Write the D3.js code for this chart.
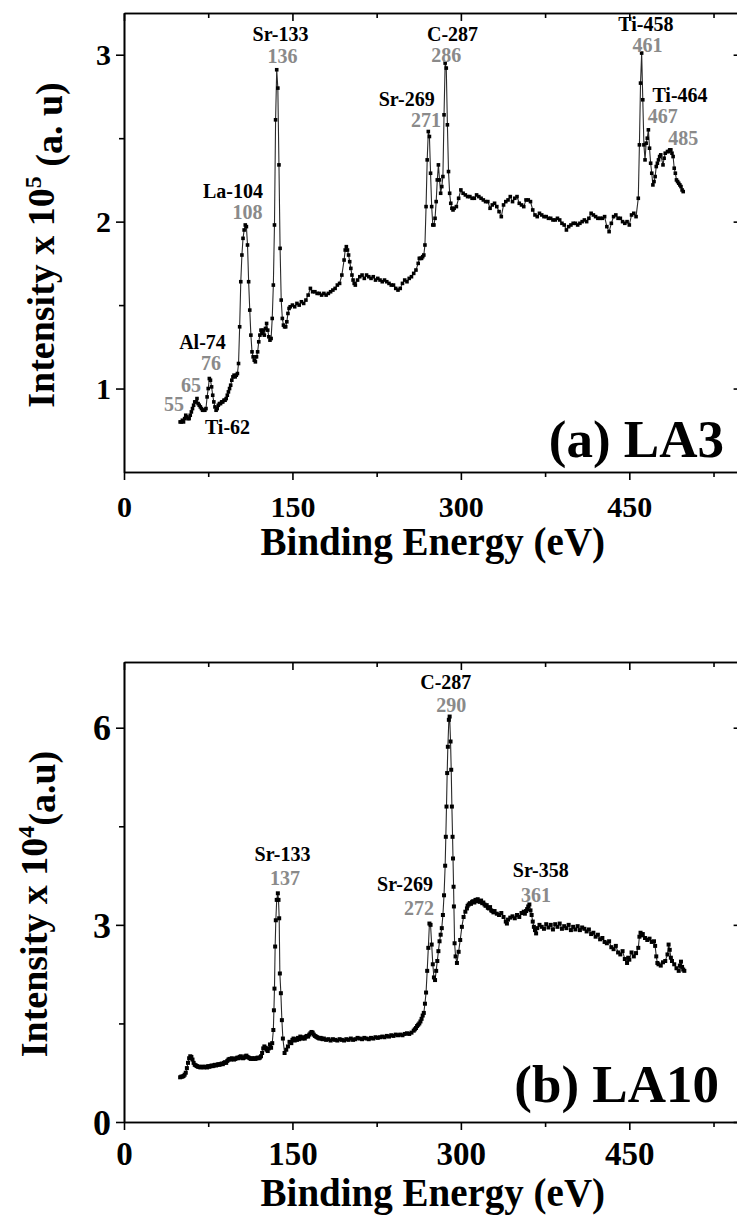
<!DOCTYPE html>
<html>
<head>
<meta charset="utf-8">
<script src="https://cdn.jsdelivr.net/npm/d3@7"></script>
<style>
  body { margin: 0; background: #fff; }
  svg { display: block; }
  text { font-family: "Liberation Serif", "Times New Roman", serif; font-weight: bold; }
</style>
</head>
<body>
<svg id="chart" width="737" height="1220"></svg>
<script>
// ---------- data ----------
// Binding-energy axis ticks (eV)
const energyMajorTicks = [0, 150, 300, 450];
const energyMinorTicks = [75, 225, 375, 525];

// Intensity ticks for each sample
const la3MajorTicks = [1, 2, 3];
const la3MinorTicks = [1.5, 2.5];
const la10MajorTicks = [0, 3, 6];
const la10MinorTicks = [1.5, 4.5];

// LA3 survey spectrum: [binding energy (eV), intensity x 1e5]
const la3Spectrum = [
  [50,0.80],[51,0.80],[52,0.81],[53,0.80],[54,0.82],[55,0.84],[56,0.83],[57,0.82],[58,0.82],[59,0.84],
  [60,0.86],[61,0.88],[62,0.90],[63,0.92],[64,0.92],[65,0.94],[66,0.91],[67,0.90],[68,0.89],[69,0.88],
  [70,0.87],[71,0.87],[72,0.87],[73,0.88],[74,0.95],[75,1.00],[76,1.06],[77,1.05],[78,1.01],[79,0.96],
  [80,0.92],[81,0.89],[82,0.87],[83,0.88],[84,0.90],[85,0.91],[86,0.91],[87,0.92],[88,0.92],[89,0.93],
  [90,0.93],[91,0.94],[92,0.96],[93,0.98],[94,1.00],[95,1.02],[96,1.05],[97,1.07],[98,1.08],[99,1.07],
  [100,1.08],[101,1.09],[102,1.15],[103,1.37],[104,1.64],[105,1.80],[106,1.90],[107,1.95],[108,1.98],[109,1.97],
  [110,1.86],[111,1.64],[112,1.47],[113,1.32],[114,1.22],[115,1.19],[116,1.17],[117,1.16],[118,1.19],[119,1.22],
  [120,1.28],[121,1.32],[122,1.35],[123,1.33],[124,1.35],[125,1.32],[126,1.36],[127,1.39],[128,1.35],[129,1.31],
  [130,1.29],[131,1.30],[132,1.42],[133,1.62],[134,1.98],[135,2.61],[136,2.91],[137,2.80],[138,2.34],[139,1.84],
  [140,1.53],[141,1.42],[142,1.38],[143,1.37],[144,1.37],[145,1.40],[146,1.45],[147,1.48],[148,1.49],[150,1.50],
  [152,1.49],[154,1.51],[156,1.50],[158,1.52],[160,1.51],[162,1.53],[164,1.56],[166,1.60],[168,1.58],[170,1.58],
  [172,1.57],[174,1.57],[176,1.56],[178,1.57],[180,1.56],[182,1.57],[184,1.58],[186,1.59],[188,1.60],[190,1.62],
  [192,1.63],[194,1.68],[196,1.77],[197,1.83],[198,1.85],[199,1.83],[200,1.80],[201,1.76],[202,1.72],[203,1.68],
  [204,1.65],[205,1.63],[206,1.62],[208,1.65],[210,1.67],[212,1.68],[214,1.66],[216,1.68],[218,1.67],[220,1.66],
  [222,1.67],[224,1.65],[226,1.66],[228,1.65],[230,1.64],[232,1.65],[234,1.64],[236,1.63],[238,1.62],[240,1.62],
  [242,1.60],[244,1.59],[246,1.60],[248,1.63],[250,1.65],[252,1.64],[254,1.66],[256,1.67],[258,1.69],[260,1.71],
  [262,1.75],[263,1.78],[264,1.78],[265,1.78],[266,1.79],[267,1.80],[268,1.86],[269,2.09],[270,2.37],[271,2.54],
  [272,2.51],[273,2.29],[274,2.09],[275,1.98],[276,1.98],[277,2.02],[278,2.12],[279,2.25],[280,2.34],[281,2.25],
  [282,2.17],[283,2.21],[284,2.27],[285,2.64],[286,2.95],[287,2.92],[288,2.58],[289,2.30],[290,2.17],[291,2.11],
  [292,2.08],[293,2.07],[294,2.08],[296,2.09],[298,2.14],[300,2.19],[302,2.17],[304,2.16],[306,2.15],[308,2.15],
  [310,2.14],[312,2.14],[314,2.16],[316,2.15],[318,2.14],[320,2.13],[322,2.12],[324,2.12],[326,2.08],[328,2.10],
  [330,2.11],[332,2.09],[334,2.06],[336,2.03],[338,2.10],[340,2.12],[342,2.13],[344,2.15],[346,2.12],[348,2.14],
  [350,2.15],[352,2.11],[354,2.10],[356,2.09],[358,2.13],[360,2.13],[362,2.12],[364,2.07],[366,2.04],[368,2.03],
  [370,2.05],[372,2.04],[374,2.03],[376,2.03],[378,2.02],[380,2.02],[382,2.01],[384,2.01],[386,2.02],[388,2.01],
  [390,1.99],[392,1.98],[394,1.95],[396,1.97],[398,1.98],[400,1.99],[402,1.99],[404,1.98],[406,1.99],[408,2.00],
  [410,2.01],[412,2.00],[414,2.02],[416,2.05],[418,2.04],[420,2.03],[422,2.02],[424,2.02],[426,2.02],[428,2.03],
  [430,1.97],[432,1.94],[434,1.99],[436,2.03],[438,2.04],[440,2.02],[442,2.02],[444,2.00],[446,1.99],[448,2.00],
  [450,1.98],[452,2.04],[454,2.05],[456,2.03],[458,2.14],[459,2.46],[460,2.83],[461,3.01],[462,2.73],[463,2.46],
  [464,2.37],[465,2.47],[466,2.50],[467,2.55],[468,2.44],[469,2.35],[470,2.29],[471,2.22],[472,2.24],[473,2.27],
  [474,2.33],[475,2.35],[476,2.37],[477,2.39],[478,2.40],[480,2.34],[481,2.38],[482,2.41],[484,2.42],[485,2.42],
  [486,2.43],[487,2.43],[488,2.41],[489,2.39],[490,2.32],[491,2.29],[492,2.25],[493,2.24],[494,2.23],[495,2.22],
  [496,2.21],[497,2.19],[498,2.18]
];

// LA10 survey spectrum: [binding energy (eV), intensity x 1e4]
const la10Spectrum = [
  [50,0.68],[51,0.69],[52,0.69],[53,0.70],[54,0.72],[55,0.75],[56,0.82],[57,0.90],[58,0.97],[59,1.00],
  [60,0.99],[61,0.95],[62,0.90],[63,0.87],[64,0.86],[65,0.85],[66,0.84],[67,0.84],[68,0.83],[69,0.84],
  [70,0.84],[71,0.83],[72,0.84],[73,0.84],[74,0.83],[75,0.85],[76,0.84],[77,0.85],[78,0.86],[79,0.85],
  [80,0.86],[81,0.87],[82,0.86],[83,0.87],[84,0.88],[85,0.87],[86,0.88],[87,0.89],[88,0.88],[89,0.90],
  [90,0.91],[91,0.90],[92,0.93],[93,0.95],[94,0.96],[95,0.95],[96,0.97],[97,0.96],[98,0.95],[99,0.96],
  [100,0.97],[101,0.98],[102,0.97],[103,0.99],[104,1.00],[105,0.98],[106,0.97],[107,0.98],[108,1.00],[109,1.01],
  [110,0.99],[111,0.98],[112,0.97],[113,0.96],[114,0.97],[115,0.96],[116,0.97],[117,0.96],[118,0.97],[119,0.98],
  [120,0.97],[121,0.98],[122,1.00],[123,1.05],[124,1.12],[125,1.15],[126,1.13],[127,1.10],[128,1.08],[129,1.12],
  [130,1.18],[131,1.13],[132,1.20],[133,1.40],[133.5,1.70],[134,2.03],[134.6,2.67],[135.2,3.07],[136,3.38],[137,3.48],
  [137.6,3.38],[138.2,3.10],[138.8,2.26],[139.7,1.96],[140.6,1.55],[141.5,1.27],[143,1.05],[144.5,1.10],[146,1.15],[147.4,1.22],
  [149,1.20],[150,1.25],[151,1.27],[152,1.24],[153,1.26],[154,1.25],[155,1.28],[156,1.26],[157,1.30],[158,1.28],
  [159,1.27],[160,1.29],[161,1.27],[162,1.30],[163,1.31],[164,1.30],[165,1.33],[166,1.35],[167,1.37],[168,1.36],
  [169,1.33],[170,1.31],[171,1.30],[172,1.29],[173,1.28],[174,1.27],[175,1.28],[176,1.27],[177,1.26],[178,1.27],
  [180,1.25],[182,1.26],[184,1.24],[186,1.26],[188,1.25],[190,1.24],[192,1.26],[194,1.25],[196,1.24],[198,1.26],
  [200,1.25],[202,1.27],[204,1.25],[206,1.26],[208,1.28],[210,1.27],[212,1.26],[214,1.28],[216,1.27],[218,1.26],
  [220,1.28],[222,1.27],[224,1.29],[226,1.28],[228,1.29],[230,1.30],[232,1.29],[234,1.31],[236,1.30],[238,1.32],
  [240,1.31],[242,1.33],[244,1.32],[246,1.33],[248,1.32],[250,1.34],[252,1.35],[254,1.34],[256,1.36],[258,1.39],
  [259,1.41],[260,1.43],[261,1.46],[262,1.48],[263,1.50],[264,1.53],[265,1.57],[266,1.62],[267,1.66],[268,1.80],
  [269,1.97],[270,2.30],[271,2.65],[272,3.02],[273,3.00],[274,2.70],[275,2.40],[276,2.20],[277,2.16],[278,2.30],
  [279,2.45],[280,2.60],[281,2.75],[282,2.85],[283,2.95],[284,3.15],[285,3.45],[286,3.90],[286.6,4.34],[287.2,4.80],
  [287.8,5.31],[288.4,5.71],[289.3,6.12],[290,6.17],[290.8,5.79],[291.4,5.36],[292,4.80],[292.6,4.34],[293,4.01],[293.5,3.58],
  [293.8,3.28],[294.4,2.72],[295.3,2.52],[296.5,2.42],[298,2.59],[299.4,2.77],[300.9,2.97],[302.4,3.12],[304,3.20],[305.4,3.25],
  [306,3.29],[307,3.31],[308,3.33],[309,3.32],[310,3.35],[311,3.36],[312,3.34],[313,3.38],[314,3.36],[315,3.39],
  [316,3.36],[317,3.35],[318,3.37],[319,3.33],[320,3.34],[321,3.31],[322,3.29],[323,3.30],[324,3.26],[325,3.25],
  [326,3.27],[327,3.22],[328,3.21],[329,3.19],[330,3.21],[332,3.17],[334,3.15],[336,3.18],[338,3.12],[340,3.05],
  [341,3.02],[342,3.08],[344,3.11],[346,3.13],[348,3.10],[350,3.15],[352,3.12],[354,3.18],[356,3.20],[357,3.17],
  [358,3.21],[359,3.24],[360,3.28],[361,3.31],[362,3.22],[363,3.15],[364,3.05],[365,2.97],[366,2.92],[367,2.87],
  [368,2.95],[370,3.00],[372,2.97],[374,2.94],[376,3.01],[378,2.96],[380,3.00],[382,2.93],[384,3.01],[386,2.97],
  [388,3.02],[390,2.94],[392,2.98],[394,2.95],[396,3.00],[398,2.92],[400,2.97],[402,2.93],[404,2.98],[406,2.92],
  [408,2.96],[410,2.94],[412,2.90],[414,2.93],[416,2.86],[418,2.88],[420,2.82],[422,2.85],[424,2.78],[426,2.80],
  [428,2.74],[430,2.72],[432,2.75],[434,2.66],[436,2.63],[438,2.68],[440,2.58],[442,2.55],[444,2.60],[446,2.48],
  [448,2.42],[449,2.50],[450,2.47],[452,2.58],[454,2.52],[456,2.57],[458,2.65],[459,2.82],[460,2.88],[461,2.84],
  [462,2.86],[464,2.80],[466,2.77],[468,2.79],[470,2.74],[472,2.75],[473,2.68],[474,2.52],[475,2.42],[476,2.40],
  [478,2.38],[480,2.43],[482,2.45],[484,2.55],[485,2.70],[486,2.62],[487,2.50],[488,2.45],[490,2.40],[492,2.34],
  [494,2.30],[495,2.38],[496,2.44],[497,2.36],[498,2.32],[499,2.30]
];

// Peak annotations: element line names and observed peak energies
const la3PeakNames = ["Sr-133", "La-104", "Al-74", "Ti-62", "Sr-269", "C-287", "Ti-458", "Ti-464"];
const la3PeakEnergies = ["136", "108", "76", "65", "55", "271", "286", "461", "467", "485"];
const la10PeakNames = ["Sr-133", "Sr-269", "C-287", "Sr-358"];
const la10PeakEnergies = ["137", "272", "290", "361"];

// ---------- drawing ----------
const svg = d3.select("#chart");
const x = d3.scaleLinear().domain([0, 550]).range([124, 741.6]);
const GRAY = "#8a8a8a";

function styleAxis(sel) {
  sel.select(".domain").attr("stroke", "#000").attr("stroke-width", 1.6);
  sel.selectAll(".tick line").attr("stroke", "#000").attr("stroke-width", 1.6);
  sel.attr("font-family", null).attr("font-size", null);
}

function drawPanel(p) {
  const y = d3.scaleLinear().domain(p.yDomain).range([p.bottom, p.top]);
  const g = svg.append("g");
  const blank = () => "";

  // minor ticks first
  g.append("g").attr("transform", `translate(0,${p.bottom})`)
    .call(d3.axisBottom(x).tickValues(energyMinorTicks).tickSize(5).tickSizeOuter(0).tickFormat(blank)).call(styleAxis);
  g.append("g").attr("transform", `translate(0,${p.top})`)
    .call(d3.axisTop(x).tickValues(energyMinorTicks).tickSize(-5).tickSizeOuter(0).tickFormat(blank)).call(styleAxis);
  g.append("g").attr("transform", `translate(${x.range()[0]},0)`)
    .call(d3.axisLeft(y).tickValues(p.minor).tickSize(5).tickSizeOuter(0).tickFormat(blank)).call(styleAxis);
  g.append("g").attr("transform", `translate(${x.range()[1]},0)`)
    .call(d3.axisRight(y).tickValues(p.minor).tickSize(-4).tickSizeOuter(0).tickFormat(blank)).call(styleAxis);

  // major ticks with labels
  const bottomAxis = g.append("g").attr("transform", `translate(0,${p.bottom})`)
    .call(d3.axisBottom(x).tickValues(energyMajorTicks).tickSize(8).tickSizeOuter(0).tickFormat(d3.format("d")))
    .call(styleAxis);
  bottomAxis.selectAll(".tick text")
    .attr("y", p.xLabelOffset).attr("dy", 0)
    .attr("fill", "#000").style("font-size", p.tickFont + "px");

  g.append("g").attr("transform", `translate(0,${p.top})`)
    .call(d3.axisTop(x).tickValues(energyMajorTicks).tickSize(-8).tickSizeOuter(0).tickFormat(blank)).call(styleAxis);

  const leftAxis = g.append("g").attr("transform", `translate(${x.range()[0]},0)`)
    .call(d3.axisLeft(y).tickValues(p.major).tickSize(8).tickSizeOuter(0).tickFormat(d3.format("d")))
    .call(styleAxis);
  leftAxis.selectAll(".tick text")
    .attr("x", -13).attr("dy", "0.34em")
    .attr("fill", "#000").style("font-size", p.yTickFont + "px");

  g.append("g").attr("transform", `translate(${x.range()[1]},0)`)
    .call(d3.axisRight(y).tickValues(p.major).tickSize(-8).tickSizeOuter(0).tickFormat(blank)).call(styleAxis);

  // spectrum: thin connecting line with square markers
  const line = d3.line().x(d => x(d[0])).y(d => y(d[1]));
  g.append("path").datum(p.data)
    .attr("d", line).attr("fill", "none")
    .attr("stroke", "#2a2a2a").attr("stroke-width", 1.1);
  const s = p.marker;
  g.append("g").selectAll("rect").data(p.data).join("rect")
    .attr("x", d => x(d[0]) - s / 2).attr("y", d => y(d[1]) - s / 2)
    .attr("width", s).attr("height", s).attr("fill", "#000");

  // axis titles
  g.append("text")
    .attr("x", (x.range()[0] + x.range()[1]) / 2).attr("y", p.xTitleY)
    .attr("text-anchor", "middle").style("font-size", "39px")
    .text("Binding Energy (eV)");

  const yt = g.append("text")
    .attr("transform", `translate(${p.yTitleX},${p.yTitleY}) rotate(-90)`)
    .attr("text-anchor", "middle").style("font-size", "38px");
  yt.append("tspan").text("Intensity x 10");
  yt.append("tspan").attr("dy", "-0.55em").style("font-size", "24px").text(p.exponent);
  yt.append("tspan").attr("dy", "0.55em").text(p.unit);

  // sample tag
  g.append("text")
    .attr("x", p.tagX).attr("y", p.tagY)
    .attr("text-anchor", "end").style("font-size", "53px")
    .text(p.tag);

  // peak annotations
  g.append("g").selectAll("text").data(p.labels).join("text")
    .attr("x", d => d[1]).attr("y", d => d[2])
    .attr("text-anchor", "middle").style("font-size", "20px")
    .attr("fill", d => d[3] ? GRAY : "#000")
    .text(d => d[0]);
}

drawPanel({
  data: la3Spectrum, yDomain: [0.5, 3.25], top: 13, bottom: 472,
  major: la3MajorTicks, minor: la3MinorTicks,
  tickFont: 30, yTickFont: 30, xLabelOffset: 45, xTitleY: 555,
  yTitleX: 54, yTitleY: 245, exponent: "5", unit: " (a. u)",
  tag: "(a) LA3", tagX: 724, tagY: 457, marker: 3.6,
  labels: [
    [la3PeakNames[0], 280.5, 40.5, 0], [la3PeakEnergies[0], 282.5, 62.7, 1],
    [la3PeakNames[1], 233, 198, 0], [la3PeakEnergies[1], 247.5, 219, 1],
    [la3PeakNames[2], 202.5, 349, 0], [la3PeakEnergies[2], 211, 370, 1],
    [la3PeakEnergies[3], 191, 391.7, 1], [la3PeakEnergies[4], 174, 411, 1],
    [la3PeakNames[3], 227.5, 434, 0],
    [la3PeakNames[4], 406.7, 105.5, 0], [la3PeakEnergies[5], 426, 127, 1],
    [la3PeakNames[5], 452.5, 40.5, 0], [la3PeakEnergies[6], 446.3, 62, 1],
    [la3PeakNames[6], 645.8, 31, 0], [la3PeakEnergies[7], 647.5, 51.5, 1],
    [la3PeakNames[7], 680, 102, 0], [la3PeakEnergies[8], 662.8, 123, 1],
    [la3PeakEnergies[9], 683.3, 145, 1]
  ]
});

drawPanel({
  data: la10Spectrum, yDomain: [0, 7], top: 662, bottom: 1122,
  major: la10MajorTicks, minor: la10MinorTicks,
  tickFont: 33, yTickFont: 36, xLabelOffset: 43, xTitleY: 1206,
  yTitleX: 47, yTitleY: 904, exponent: "4", unit: "(a.u)",
  tag: "(b) LA10", tagX: 719, tagY: 1102, marker: 4,
  labels: [
    [la10PeakNames[0], 282.5, 860.5, 0], [la10PeakEnergies[0], 285, 885, 1],
    [la10PeakNames[1], 405, 890.5, 0], [la10PeakEnergies[1], 419, 915, 1],
    [la10PeakNames[2], 445.8, 689, 0], [la10PeakEnergies[2], 451.3, 712, 1],
    [la10PeakNames[3], 540.8, 877, 0], [la10PeakEnergies[3], 536, 902, 1]
  ]
});
</script>
</body>
</html>
